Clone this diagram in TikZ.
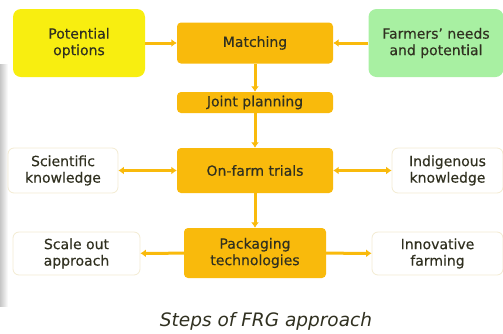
\documentclass[tikz,border=0pt]{standalone}
\usepackage{fontspec}
\setmainfont{DejaVu Sans}
\newfontfamily\frgfont{DejaVu Sans}[FakeBold=0.35]
\usepackage{tikz}
\usetikzlibrary{arrows.meta,positioning}
\definecolor{frgorange}{HTML}{F9BA0C}
\definecolor{frgyellow}{HTML}{F8EE10}
\definecolor{frggreen}{HTML}{A8F0A2}
\definecolor{frgtext}{HTML}{303020}
\definecolor{frgedge}{HTML}{F3EBD2}
\tikzset{
    box/.style={
    rectangle,rounded corners=6pt,inner sep=0pt,align=center,
    text=frgtext,font=\frgfont\fontsize{14}{16.5}\selectfont
    },
    orangebox/.style={
    box,fill=frgorange,rounded corners=4pt
    },
    yellowbox/.style={
    box,fill=frgyellow,rounded corners=8pt
    },
    greenbox/.style={
    box,fill=frggreen,rounded corners=8pt
    },
    whitebox/.style={
    box,fill=white,draw=frgedge,line width=0.8pt
    },
    flow/.style={
    draw=frgorange,line width=3pt,-{Latex[length=5.5pt,width=8pt]}
    },
    bflow/.style={
    draw=frgorange,line width=3pt,{Latex[length=5.5pt,width=8pt]}-{Latex[length=5.5pt,width=8pt]}
    },
}
\begin{document}
\begin{tikzpicture}[x=1pt,y=-1pt]
   \useasboundingbox (0,0) rectangle (503,333);
   \shade[left color=gray!45,right color=white] (0,64) rectangle (8,306);

   \node[yellowbox,minimum width=132pt,minimum height=68pt] (POT) at (79,43) {Potential\\options};
   \node[orangebox,minimum width=156pt,minimum height=41pt] (MATCH) at (255,43) {Matching};
   \node[greenbox,minimum width=135pt,minimum height=68pt] (NEEDS) at (436,43) {Farmers’ needs\\and potential};
   \node[orangebox,minimum width=156pt,minimum height=21pt] (JOINT) at (255,102.5) {Joint planning};
   \node[orangebox,minimum width=156pt,minimum height=45pt] (TRIALS) at (255,170.5) {On-farm trials};
   \node[whitebox,minimum width=110pt,minimum height=45pt] (SCI) at (63,170.5) {Scientific\\knowledge};
   \node[whitebox,minimum width=111pt,minimum height=45pt] (IND) at (447.5,170.5) {Indigenous\\knowledge};
   \node[orangebox,minimum width=142pt,minimum height=50pt] (PACK) at (255,253) {Packaging\\technologies};
   \node[whitebox,minimum width=127pt,minimum height=43pt] (SCALE) at (76.5,253.5) {Scale out\\approach};
   \node[whitebox,minimum width=131pt,minimum height=43pt] (INNOV) at (437.5,253.5) {Innovative\\farming};

   \node[text=frgtext,font=\fontsize{18.5}{20}\selectfont\itshape] (CAP) at (266,321) {Steps of FRG approach};

   \path
    (POT)    edge [flow] (MATCH)
    (NEEDS)  edge [flow] (MATCH)
    (MATCH)  edge [flow] (JOINT)
    (JOINT)  edge [flow] (TRIALS)
    (TRIALS) edge [bflow] (SCI)
             edge [bflow] (IND)
             edge [flow] (PACK)
    (PACK)   edge [flow] (SCALE)
             edge [flow] (INNOV);
\end{tikzpicture}
\end{document}
